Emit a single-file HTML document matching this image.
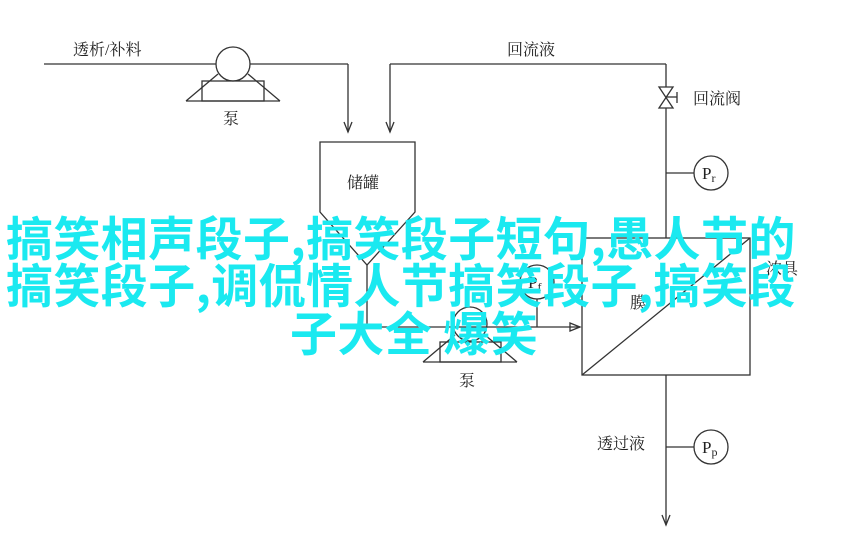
<!DOCTYPE html>
<html><head><meta charset="utf-8"><style>
html,body{margin:0;padding:0;background:#fff;}
.wrap{position:relative;width:858px;height:555px;overflow:hidden;}
svg{position:absolute;left:0;top:0;}
.wm{position:absolute;font-family:"Noto Sans CJK SC",sans-serif;font-weight:700;color:#1ae9f0;font-size:47px;line-height:47px;letter-spacing:0.4px;white-space:nowrap;}
</style></head><body><div class="wrap">
<svg width="858" height="555" viewBox="0 0 858 555">
<g stroke="#333" stroke-width="1.3" fill="none">
<line x1="44" y1="64" x2="216" y2="64"/>
<circle cx="233" cy="64" r="17"/>
<line x1="250" y1="64" x2="348" y2="64"/>
<line x1="348" y1="64" x2="348" y2="132"/>
<path d="M186 101 L280 101 M186 101 L218 74 M280 101 L248 74"/>
<rect x="202" y="81" width="62" height="20"/>
<line x1="390" y1="64" x2="666" y2="64"/>
<line x1="390" y1="64" x2="390" y2="132"/>
<path d="M320 142 L415 142 L415 212 L367 265 L320 212 Z"/>
<line x1="367" y1="265" x2="367" y2="327"/>
<line x1="367" y1="327" x2="580" y2="327"/>
<circle cx="470" cy="324" r="17"/>
<path d="M423 362 L517 362 M423 362 L455 335 M517 362 L485 335"/>
<rect x="440" y="342" width="61" height="20"/>
<circle cx="537" cy="282" r="17"/>
<line x1="537" y1="299" x2="537" y2="327"/>
<rect x="582" y="238" width="168" height="137"/>
<line x1="582" y1="375" x2="750" y2="238"/>
<line x1="666" y1="64" x2="666" y2="87"/>
<path d="M659 87 L673 87 L659 108 L673 108 Z"/>
<line x1="666" y1="97" x2="677" y2="97"/><line x1="677" y1="92" x2="677" y2="103"/>
<line x1="666" y1="108" x2="666" y2="238"/>
<line x1="666" y1="173" x2="694" y2="173"/>
<circle cx="711" cy="173" r="17"/>
<line x1="666" y1="375" x2="666" y2="525"/>
<line x1="666" y1="447" x2="694" y2="447"/>
<circle cx="711" cy="447" r="17"/>
<path d="M344 122 L348 132 L352 122 M386 122 L390 132 L394 122 M570 323 L580 327 L570 331 Z M662 515 L666 525 L670 515"/>
</g>
<g font-family="Liberation Serif,'Noto Serif CJK SC',serif" font-size="16" fill="#222">
<text x="73" y="55">透析/补料</text>
<text x="223" y="124">泵</text>
<text x="507" y="55">回流液</text>
<text x="693" y="104">回流阀</text>
<text x="347" y="188">储罐</text>
<text x="459" y="386">泵</text>
<text x="630" y="308">膜</text>
<text x="766" y="274">浓具</text>
<text x="597" y="449">透过液</text>
<text x="702" y="179" font-size="17">P<tspan font-size="12" dy="3">r</tspan></text>
<text x="528" y="288" font-size="17">P<tspan font-size="12" dy="3">f</tspan></text>
<text x="702" y="453" font-size="17">P<tspan font-size="12" dy="3">p</tspan></text>
</g>
</svg>
<div class="wm" style="left:6px;top:212px;">搞笑相声段子,搞笑段子短句,愚人节的</div>
<div class="wm" style="left:6px;top:259px;">搞笑段子,调侃情人节搞笑段子,搞笑段</div>
<div class="wm" style="left:290px;top:307px;">子大全 爆笑</div>
</div></body></html>
